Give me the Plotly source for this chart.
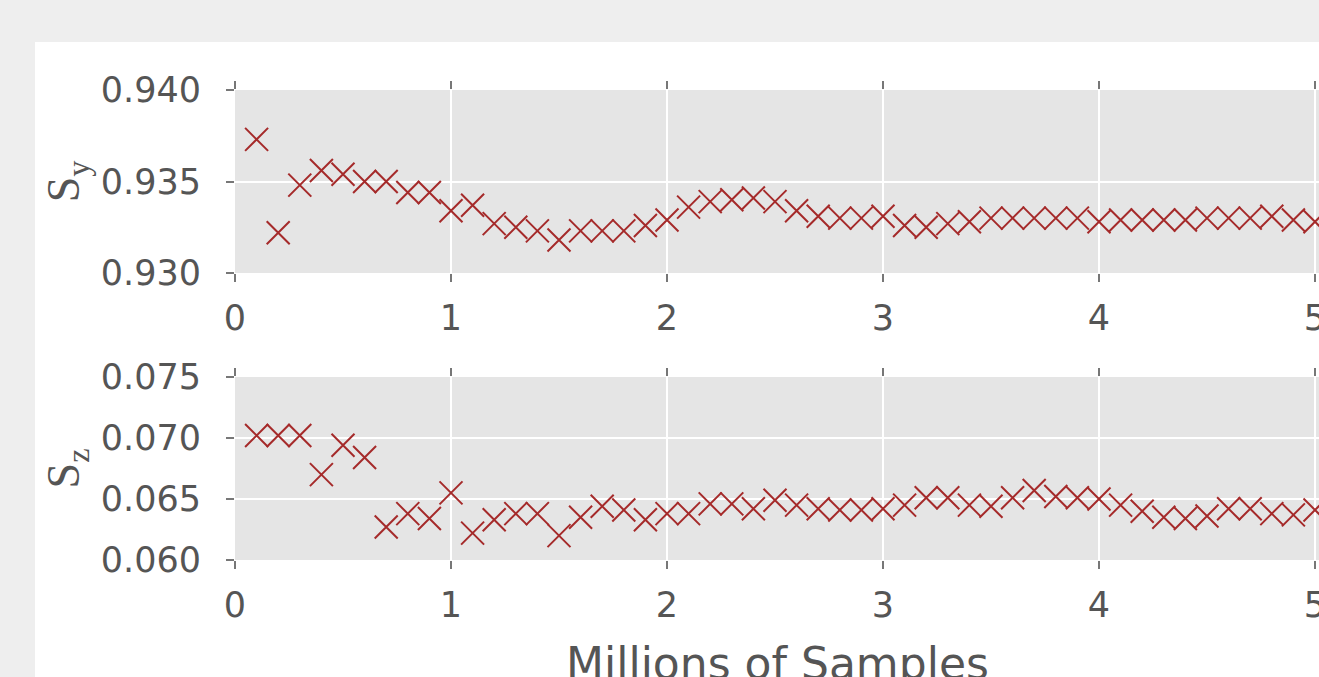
import plotly.graph_objects as go

# Millions of samples
samples = [0.1, 0.2, 0.3, 0.4, 0.5, 0.6, 0.7, 0.8, 0.9, 1.0,
           1.1, 1.2, 1.3, 1.4, 1.5, 1.6, 1.7, 1.8, 1.9, 2.0,
           2.1, 2.2, 2.3, 2.4, 2.5, 2.6, 2.7, 2.8, 2.9, 3.0,
           3.1, 3.2, 3.3, 3.4, 3.5, 3.6, 3.7, 3.8, 3.9, 4.0,
           4.1, 4.2, 4.3, 4.4, 4.5, 4.6, 4.7, 4.8, 4.9, 5.0]

s_y = [0.9373, 0.9322, 0.9348, 0.9356, 0.9354, 0.9350, 0.9350, 0.9344, 0.9344, 0.9334,
       0.9337, 0.9327, 0.9325, 0.9323, 0.9318, 0.9323, 0.9323, 0.9323, 0.9326, 0.9329,
       0.9336, 0.9339, 0.9340, 0.9341, 0.9339, 0.9334, 0.9331, 0.9330, 0.9330, 0.9331,
       0.9326, 0.9325, 0.9327, 0.9328, 0.9330, 0.9330, 0.9330, 0.9330, 0.9330, 0.9328,
       0.9329, 0.9329, 0.9329, 0.9329, 0.9330, 0.9330, 0.9330, 0.9331, 0.9329, 0.9328]

s_z = [0.0702, 0.0702, 0.0702, 0.0670, 0.0694, 0.0684, 0.0627, 0.0638, 0.0634, 0.0655,
       0.0622, 0.0633, 0.0638, 0.0638, 0.0620, 0.0635, 0.0644, 0.0641, 0.0633, 0.0638,
       0.0638, 0.0646, 0.0646, 0.0642, 0.0649, 0.0645, 0.0642, 0.0641, 0.0641, 0.0642,
       0.0645, 0.0651, 0.0651, 0.0645, 0.0644, 0.0651, 0.0657, 0.0652, 0.0651, 0.0650,
       0.0645, 0.0640, 0.0635, 0.0634, 0.0636, 0.0642, 0.0642, 0.0638, 0.0637, 0.0641]

sy_ticks = [0.930, 0.935, 0.940]
sz_ticks = [0.060, 0.065, 0.070, 0.075]

MARK = "#A52A2A"
TXT = "#555555"
TICKC = "#777777"
FONT = "DejaVu Sans"
SERIF = "Liberation Serif, DejaVu Serif, serif"

marker = dict(symbol="x-thin", size=23, line=dict(width=2, color=MARK), color=MARK)

fig = go.Figure()
fig.add_trace(go.Scatter(x=samples, y=s_y, mode="markers", marker=marker,
                         xaxis="x", yaxis="y", showlegend=False, cliponaxis=False))
fig.add_trace(go.Scatter(x=samples, y=s_z, mode="markers", marker=marker,
                         xaxis="x2", yaxis="y2", showlegend=False, cliponaxis=False))

# The page window is 1319x677; the figure runs past its right and bottom edges,
# so the plot and the axis title are cut off there as in the reference.
W, H = 1400, 720
L, T = 235, 90
B = H - 560
R = 0
ph = H - T - B
pw = W - L - R
top_lo = (560 - 273) / ph
bot_hi = (560 - 377) / ph
xmax = pw / 216.0

xcommon = dict(range=[0, xmax], tickmode="linear", tick0=0, dtick=1,
               ticks="outside", ticklen=8, tickwidth=1.5, tickcolor=TICKC, mirror="ticks",
               ticklabelstandoff=6, automargin=False,
               showgrid=True, gridcolor="white", gridwidth=2, zeroline=False, showline=False,
               tickfont=dict(family=FONT, size=35, color=TXT))
ycommon = dict(ticks="outside", ticklen=8, tickwidth=1.5, tickcolor=TICKC,
               ticklabelstandoff=18, automargin=False,
               showgrid=True, gridcolor="white", gridwidth=2, zeroline=False, showline=False,
               tickformat=".3f", tickfont=dict(family=FONT, size=35, color=TXT))

fig.update_layout(
    width=W, height=H,
    margin=dict(l=L, r=R, t=T, b=B, pad=0),
    paper_bgcolor="white",
    plot_bgcolor="#E5E5E5",
    xaxis=dict(domain=[0, 1], anchor="y", **xcommon),
    yaxis=dict(domain=[top_lo, 1], anchor="x", range=[0.930, 0.940], tickvals=sy_ticks,
               title=dict(text="S<sub>y</sub>", standoff=6,
                          font=dict(family=SERIF, size=46, color=TXT)),
               **ycommon),
    xaxis2=dict(domain=[0, 1], anchor="y2", **xcommon),
    yaxis2=dict(domain=[0, bot_hi], anchor="x2", range=[0.060, 0.075], tickvals=sz_ticks,
                title=dict(text="S<sub>z</sub>", standoff=6,
                           font=dict(family=SERIF, size=46, color=TXT)),
                **ycommon),
    annotations=[
        dict(text="Millions of Samples", xref="paper", yref="paper",
             x=(777 - L) / pw, y=-(637 - 560) / ph, xanchor="center", yanchor="top",
             showarrow=False, borderpad=0,
             font=dict(family=FONT, size=44, color=TXT)),
    ],
    shapes=[
        dict(type="rect", xref="paper", yref="paper", x0=-0.5, x1=(35 - L) / pw,
             y0=-1, y1=2, fillcolor="#EEEEEE", line=dict(width=0), layer="below"),
        dict(type="rect", xref="paper", yref="paper", x0=-0.5, x1=1.5,
             y0=(560 - 42) / ph, y1=2, fillcolor="#EEEEEE", line=dict(width=0), layer="below"),
    ],
)

fig.write_html("out.html", config={"displayModeBar": False},
               post_script="document.body.style.margin='0px';document.body.style.overflow='hidden';")
